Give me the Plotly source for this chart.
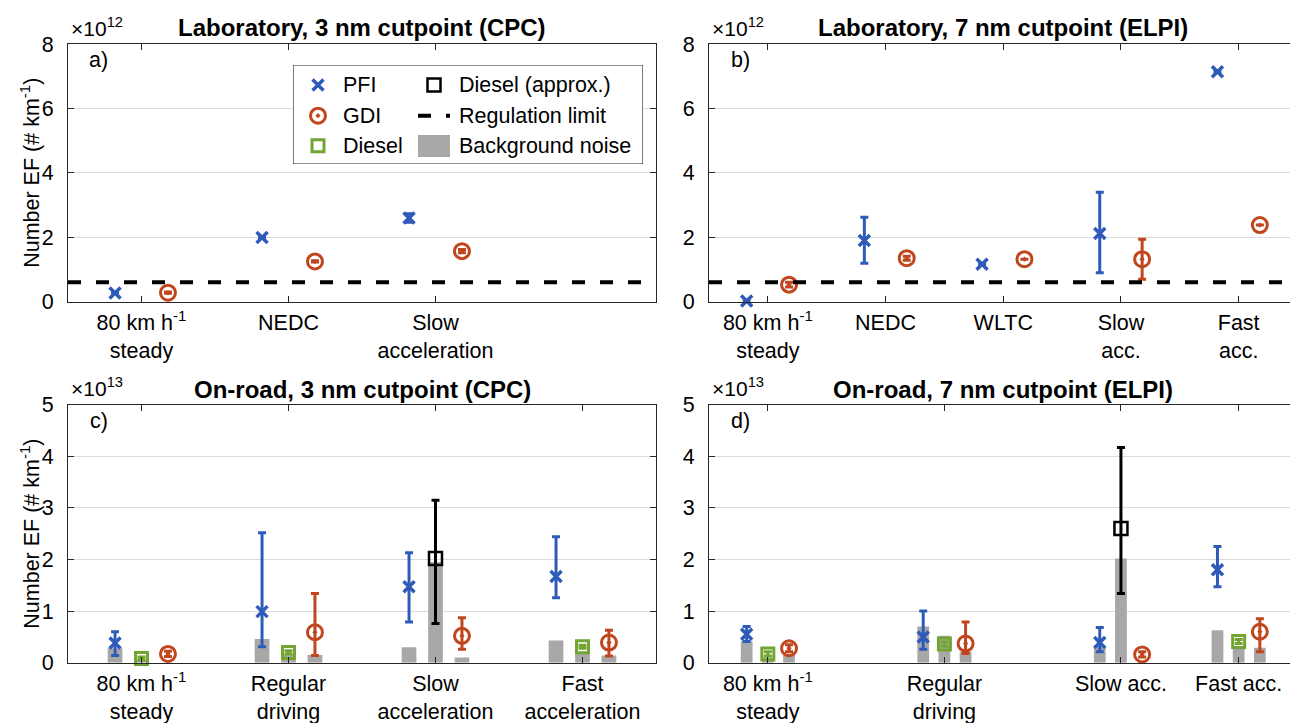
import plotly.graph_objects as go

W, H = 1290, 723
FONT = "Liberation Sans, Arial, Helvetica, sans-serif"

BLUE = "#2F5BB8"
RED = "#C0461D"
GREEN = "#72A532"
GRAY = "#A8A8A8"
BLACK = "#000000"
AXC = "#262626"
GRID = "#DADADA"

OFF = 0.18      # group offset of PFI / GDI around category position
BAR_W = 0.1     # width of background-noise bars

# ---------------- data ----------------
# Panels a, b in units of 1e12 # km^-1 ; panels c, d in units of 1e13 # km^-1
REG_LIMIT = 0.6

# Panel a: Laboratory, 3 nm cutpoint (CPC)
a_pos = [1, 2, 3]
a_cats = ["80 km h<sup>-1</sup><br>steady", "NEDC", "Slow<br>acceleration"]
a_pfi = [0.27, 1.99, 2.60]
a_pfi_lo = [0.27, 1.99, 2.47]
a_pfi_hi = [0.27, 1.99, 2.73]
a_gdi = [0.28, 1.25, 1.57]
a_gdi_lo = [0.26, 1.23, 1.52]
a_gdi_hi = [0.30, 1.27, 1.62]

# Panel b: Laboratory, 7 nm cutpoint (ELPI)
b_pos = [1, 2, 3, 4, 5]
b_cats = ["80 km h<sup>-1</sup><br>steady", "NEDC", "WLTC", "Slow<br>acc.", "Fast<br>acc."]
b_pfi = [0.02, 1.90, 1.16, 2.12, 7.14]
b_pfi_lo = [0.02, 1.19, 1.16, 0.90, 7.14]
b_pfi_hi = [0.02, 2.62, 1.16, 3.40, 7.14]
b_gdi = [0.53, 1.35, 1.32, 1.32, 2.38]
b_gdi_lo = [0.46, 1.29, 1.32, 0.70, 2.38]
b_gdi_hi = [0.60, 1.41, 1.32, 1.94, 2.38]

# Panel c: On-road, 3 nm cutpoint (CPC)
c_pos = [1, 2, 3, 4]
c_cats = ["80 km h<sup>-1</sup><br>steady", "Regular<br>driving", "Slow<br>acceleration", "Fast<br>acceleration"]
c_pfi = [0.38, 0.99, 1.47, 1.67]
c_pfi_lo = [0.14, 0.31, 0.79, 1.26]
c_pfi_hi = [0.60, 2.52, 2.13, 2.44]
c_dsl = [0.08, 0.20, None, 0.31]
c_dsl_lo = [0.05, 0.17, None, 0.28]
c_dsl_hi = [0.11, 0.23, None, 0.34]
c_dapx = [None, None, 2.02, None]
c_dapx_lo = [None, None, 0.76, None]
c_dapx_hi = [None, None, 3.15, None]
c_gdi = [0.17, 0.59, 0.52, 0.39]
c_gdi_lo = [0.12, 0.14, 0.26, 0.13]
c_gdi_hi = [0.22, 1.34, 0.87, 0.63]
c_bg_pfi = [0.28, 0.46, 0.30, 0.43]
c_bg_dsl = [0.05, 0.17, 1.95, 0.20]
c_bg_gdi = [0.00, 0.15, 0.10, 0.14]

# Panel d: On-road, 7 nm cutpoint (ELPI)
d_pos = [1, 2.5, 4, 5]
d_cats = ["80 km h<sup>-1</sup><br>steady", "Regular<br>driving", "Slow acc.", "Fast acc."]
d_pfi = [0.55, 0.50, 0.39, 1.80]
d_pfi_lo = [0.41, 0.26, 0.21, 1.47]
d_pfi_hi = [0.70, 1.00, 0.68, 2.25]
d_dsl = [0.17, 0.36, None, 0.41]
d_dsl_lo = [0.13, 0.32, None, 0.37]
d_dsl_hi = [0.21, 0.40, None, 0.45]
d_dapx = [None, None, 2.60, None]
d_dapx_lo = [None, None, 1.34, None]
d_dapx_hi = [None, None, 4.17, None]
d_gdi = [0.28, 0.37, 0.16, 0.60]
d_gdi_lo = [0.21, 0.18, 0.11, 0.21]
d_gdi_hi = [0.35, 0.79, 0.21, 0.85]
d_bg_pfi = [0.41, 0.70, 0.30, 0.63]
d_bg_dsl = [0.10, 0.52, 2.02, 0.30]
d_bg_gdi = [0.15, 0.21, 0.00, 0.29]

# ---------------- helpers ----------------
MARK = {
    "pfi": dict(symbol="x-thin", size=11, color=BLUE, line=dict(color=BLUE, width=3.5)),
    "gdi": dict(symbol="circle-open-dot", size=15, color=RED, line=dict(color=RED, width=3)),
    "dsl": dict(symbol="square-open", size=12, color=GREEN, line=dict(color=GREEN, width=3)),
    "dapx": dict(symbol="square-open", size=13, color=BLACK, line=dict(color=BLACK, width=2.5)),
}
ECOL = {"pfi": BLUE, "gdi": RED, "dsl": GREEN, "dapx": BLACK}


def points(pos, off, vals, lo, hi, kind, ax):
    xs, ys, ep, em = [], [], [], []
    for p, v, l, h in zip(pos, vals, lo, hi):
        if v is None:
            continue
        xs.append(p + off)
        ys.append(v)
        ep.append(h - v)
        em.append(v - l)
    return go.Scatter(
        x=xs, y=ys, mode="markers", marker=MARK[kind], showlegend=False,
        error_y=dict(type="data", symmetric=False, array=ep, arrayminus=em,
                     color=ECOL[kind], thickness=3, width=4),
        xaxis="x" + ax, yaxis="y" + ax, hoverinfo="skip", cliponaxis=False,
    )


def bars(pos, off, vals, ax):
    return go.Bar(
        x=[p + off for p in pos], y=vals, width=BAR_W, marker=dict(color=GRAY, line=dict(width=0)),
        showlegend=False, xaxis="x" + ax, yaxis="y" + ax, hoverinfo="skip",
    )


fig = go.Figure()

fig.add_trace(bars(c_pos, -OFF, c_bg_pfi, "3"))
fig.add_trace(bars(c_pos, 0, c_bg_dsl, "3"))
fig.add_trace(bars(c_pos, OFF, c_bg_gdi, "3"))
fig.add_trace(bars(d_pos, -OFF, d_bg_pfi, "4"))
fig.add_trace(bars(d_pos, 0, d_bg_dsl, "4"))
fig.add_trace(bars(d_pos, OFF, d_bg_gdi, "4"))

fig.add_trace(points(a_pos, -OFF, a_pfi, a_pfi_lo, a_pfi_hi, "pfi", ""))
fig.add_trace(points(a_pos, OFF, a_gdi, a_gdi_lo, a_gdi_hi, "gdi", ""))

fig.add_trace(points(b_pos, -OFF, b_pfi, b_pfi_lo, b_pfi_hi, "pfi", "2"))
fig.add_trace(points(b_pos, OFF, b_gdi, b_gdi_lo, b_gdi_hi, "gdi", "2"))

fig.add_trace(points(c_pos, -OFF, c_pfi, c_pfi_lo, c_pfi_hi, "pfi", "3"))
fig.add_trace(points(c_pos, 0, c_dsl, c_dsl_lo, c_dsl_hi, "dsl", "3"))
fig.add_trace(points(c_pos, 0, c_dapx, c_dapx_lo, c_dapx_hi, "dapx", "3"))
fig.add_trace(points(c_pos, OFF, c_gdi, c_gdi_lo, c_gdi_hi, "gdi", "3"))

fig.add_trace(points(d_pos, -OFF, d_pfi, d_pfi_lo, d_pfi_hi, "pfi", "4"))
fig.add_trace(points(d_pos, 0, d_dsl, d_dsl_lo, d_dsl_hi, "dsl", "4"))
fig.add_trace(points(d_pos, 0, d_dapx, d_dapx_lo, d_dapx_hi, "dapx", "4"))
fig.add_trace(points(d_pos, OFF, d_gdi, d_gdi_lo, d_gdi_hi, "gdi", "4"))

# ---------------- legend (own invisible axes in pixel units) ----------------
LX0, LX1, LY0, LY1 = 293, 643, 65, 164
ROWS = [85, 115.7, 145.7]
C1M, C1T, C2M, C2T = 318, 341, 434, 457
for kind, ry in zip(["pfi", "gdi", "dsl"], ROWS):
    fig.add_trace(go.Scatter(x=[C1M], y=[ry], mode="markers", marker=MARK[kind],
                             xaxis="x5", yaxis="y5", showlegend=False, hoverinfo="skip"))
fig.add_trace(go.Scatter(x=[C2M], y=[ROWS[0]], mode="markers", marker=MARK["dapx"],
                         xaxis="x5", yaxis="y5", showlegend=False, hoverinfo="skip"))
fig.add_trace(go.Scatter(x=[418, 450], y=[ROWS[1], ROWS[1]], mode="lines",
                         line=dict(color=BLACK, width=4, dash="13px,15px"),
                         xaxis="x5", yaxis="y5", showlegend=False, hoverinfo="skip"))

# ---------------- layout ----------------
def px2x(px):
    return px / W


def px2y(py):
    return 1 - py / H


XA = [68, 656]
XB = [709, 1290]
YTOP = [44, 301.7]
YBOT = [404.7, 662.7]

TICKF = dict(family=FONT, size=21.5, color=BLACK)


def xaxis(dom, rng, pos, cats, anchor):
    return dict(domain=[px2x(dom[0]), px2x(dom[1])], range=rng, tickmode="array",
                tickvals=pos, ticktext=cats, ticks="inside", ticklen=6, tickcolor=AXC,
                showline=True, linecolor=AXC, linewidth=1.2, mirror="ticks",
                showgrid=False, zeroline=False, tickfont=TICKF, anchor=anchor,
                ticklabelstandoff=1, automargin=False)


def yaxis(dom, rng, tv, anchor, mirror):
    return dict(domain=[px2y(dom[1]), px2y(dom[0])], range=rng, tickmode="array",
                tickvals=tv, ticktext=[str(v) for v in tv], ticks="inside", ticklen=6,
                tickcolor=AXC, showline=True, linecolor=AXC, linewidth=1.2,
                mirror="ticks" if mirror else False, showgrid=True, gridcolor=GRID,
                gridwidth=1.3, zeroline=False, tickfont=TICKF, anchor=anchor,
                ticklabelstandoff=9, automargin=False)


B_RIGHT = 0.5 + (XB[1] - XB[0]) / 117.7

layout = dict(
    width=W, height=H, autosize=False, margin=dict(l=0, r=0, t=0, b=0),
    paper_bgcolor="white", plot_bgcolor="white", barmode="overlay",
    font=dict(family=FONT, size=21.5, color=BLACK), showlegend=False,
    xaxis=xaxis(XA, [0.5, 4.5], a_pos, a_cats, "y"),
    yaxis=yaxis(YTOP, [0, 8], [0, 2, 4, 6, 8], "x", True),
    xaxis2=xaxis(XB, [0.5, B_RIGHT], b_pos, b_cats, "y2"),
    yaxis2=yaxis(YTOP, [0, 8], [0, 2, 4, 6, 8], "x2", False),
    xaxis3=xaxis(XA, [0.5, 4.5], c_pos, c_cats, "y3"),
    yaxis3=yaxis(YBOT, [0, 5], [0, 1, 2, 3, 4, 5], "x3", True),
    xaxis4=xaxis(XB, [0.5, B_RIGHT], d_pos, d_cats, "y4"),
    yaxis4=yaxis(YBOT, [0, 5], [0, 1, 2, 3, 4, 5], "x4", False),
    xaxis5=dict(domain=[px2x(LX0), px2x(LX1)], range=[LX0, LX1], visible=False,
                anchor="y5", fixedrange=True),
    yaxis5=dict(domain=[px2y(LY1), px2y(LY0)], range=[LY1, LY0], visible=False,
                anchor="x5", fixedrange=True),
)
fig.update_layout(**layout)

shapes = []
for ax in ["", "2"]:
    shapes.append(dict(type="line", xref=f"x{ax} domain", x0=0, x1=1, yref=f"y{ax}",
                       y0=REG_LIMIT, y1=REG_LIMIT,
                       line=dict(color=BLACK, width=4, dash="13px,15px")))
shapes.append(dict(type="rect", xref="x5", yref="y5", x0=LX0, x1=LX1, y0=LY0, y1=LY1,
                   line=dict(color=AXC, width=1.2), fillcolor="white", layer="between"))
shapes.append(dict(type="rect", xref="x5", yref="y5", x0=418, x1=450, y0=135, y1=157,
                   line=dict(width=0), fillcolor=GRAY, layer="between"))
fig.update_layout(shapes=shapes)

ann = []
LF = dict(family=FONT, size=21.5, color=BLACK)
for txt, ry in zip(["PFI", "GDI", "Diesel"], ROWS):
    ann.append(dict(text=txt, x=C1T, y=ry, xref="x5", yref="y5", xanchor="left",
                    yanchor="middle", showarrow=False, font=LF))
for txt, ry in zip(["Diesel (approx.)", "Regulation limit", "Background noise"], ROWS):
    ann.append(dict(text=txt, x=C2T, y=ry, xref="x5", yref="y5", xanchor="left",
                    yanchor="middle", showarrow=False, font=LF))

TF = dict(family=FONT, size=24, color=BLACK)
titles = [
    ("<b>Laboratory, 3 nm cutpoint (CPC)</b>", (XA[0] + XA[1]) / 2, 28),
    ("<b>Laboratory, 7 nm cutpoint (ELPI)</b>", (XB[0] + 1297) / 2, 28),
    ("<b>On-road, 3 nm cutpoint (CPC)</b>", (XA[0] + XA[1]) / 2, 389),
    ("<b>On-road, 7 nm cutpoint (ELPI)</b>", (XB[0] + 1297) / 2, 389),
]
for txt, cx, cy in titles:
    ann.append(dict(text=txt, x=px2x(cx), y=px2y(cy), xref="paper", yref="paper",
                    xanchor="center", yanchor="middle", showarrow=False, font=TF))

EF = dict(family=FONT, size=21, color=BLACK)
for txt, lx, cy in [("×10<sup>12</sup>", 69, 27), ("×10<sup>12</sup>", 710, 27),
                    ("×10<sup>13</sup>", 69, 387), ("×10<sup>13</sup>", 710, 387)]:
    ann.append(dict(text=txt, x=px2x(lx), y=px2y(cy), xref="paper", yref="paper",
                    xanchor="left", yanchor="middle", showarrow=False, font=EF))

for txt, lx, cy in [("a)", 87, 60), ("b)", 729, 60), ("c)", 88, 421), ("d)", 729, 421)]:
    ann.append(dict(text=txt, x=px2x(lx), y=px2y(cy), xref="paper", yref="paper",
                    xanchor="left", yanchor="middle", showarrow=False, font=LF))

for cy in [(YTOP[0] + YTOP[1]) / 2, (YBOT[0] + YBOT[1]) / 2]:
    ann.append(dict(text="Number EF (# km<sup>-1</sup>)", x=px2x(30), y=px2y(cy),
                    xref="paper", yref="paper", xanchor="center", yanchor="middle",
                    textangle=-90, showarrow=False, font=LF))

fig.update_layout(annotations=ann)

fig.write_html(
    "out.html",
    config={"displayModeBar": False},
    post_script="document.body.style.margin='0px';document.body.style.padding='0px';"
                "document.documentElement.style.overflow='hidden';",
)
